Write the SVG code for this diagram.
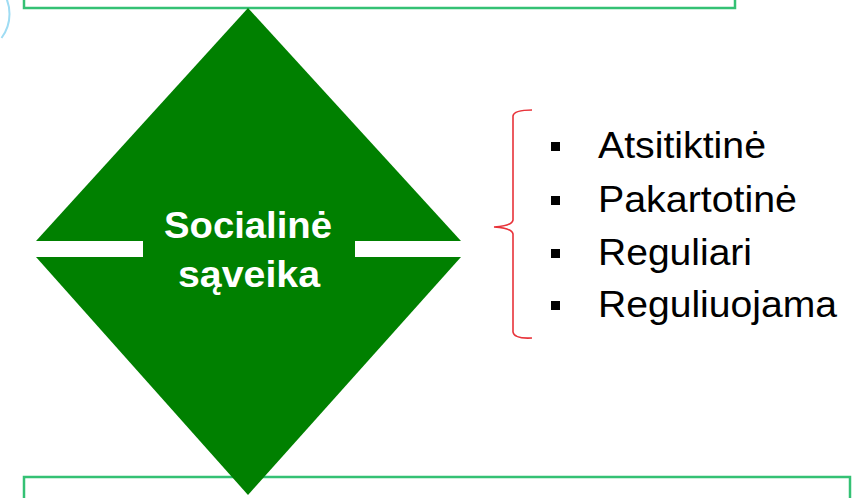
<svg xmlns="http://www.w3.org/2000/svg" width="854" height="498" viewBox="0 0 854 498">
<style>
.box{fill:#ffffff;stroke:#34c174;stroke-width:2.5}
.dia{fill:#008000}
.title{font-family:"Liberation Sans",Arial,sans-serif;font-weight:bold;font-size:36px;fill:#ffffff;text-anchor:middle}
.item{font-family:"Liberation Sans",Arial,sans-serif;font-size:37px;fill:#000000}
.bul{fill:#000000}
.brace{fill:none;stroke:#e8333a;stroke-width:1.6}
</style>
<rect width="854" height="498" fill="#ffffff"/>
<path d="M1.5,-10 A40,40 0 0 1 1.5,38" fill="none" stroke="#9fdcf3" stroke-width="2"/>
<g id="top-box"><rect class="box" x="24" y="-20" width="711" height="28"/></g>
<g id="bottom-box"><rect class="box" x="24" y="477" width="826" height="40"/></g>
<g id="diamond">
<path class="dia" d="M248,8 L461,241 L36,241 Z"/>
<path class="dia" d="M36,257 L461,257 L248,495 Z"/>
<rect class="dia" x="143" y="240" width="212" height="18"/>
<text class="title" x="248" y="238" textLength="168" lengthAdjust="spacingAndGlyphs">Socialinė</text>
<text class="title" x="249" y="287" textLength="142" lengthAdjust="spacingAndGlyphs">sąveika</text>
</g>
<g id="connectors">
<path class="brace" d="M532,110 Q514,110 513,116 L513,220 Q512,226 494,227 Q512,228 513,234 L513,332 Q514,339 532,338"/>
</g>
<g id="list">
<rect class="bul" x="551" y="142" width="9" height="9"/>
<rect class="bul" x="551" y="196" width="9" height="9"/>
<rect class="bul" x="551" y="249" width="9" height="9"/>
<rect class="bul" x="551" y="301" width="9" height="9"/>
<text class="item" x="598" y="158" textLength="168" lengthAdjust="spacingAndGlyphs">Atsitiktinė</text>
<text class="item" x="598" y="212" textLength="199" lengthAdjust="spacingAndGlyphs">Pakartotinė</text>
<text class="item" x="598" y="265" textLength="154" lengthAdjust="spacingAndGlyphs">Reguliari</text>
<text class="item" x="598" y="317" textLength="239" lengthAdjust="spacingAndGlyphs">Reguliuojama</text>
</g>
</svg>
